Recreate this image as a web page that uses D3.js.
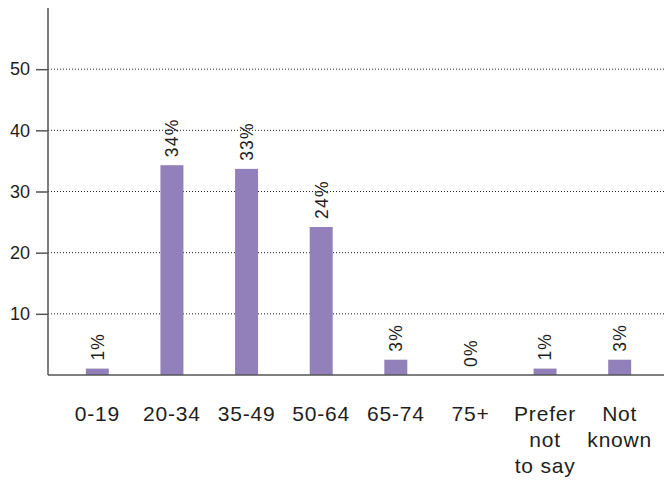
<!DOCTYPE html>
<html><head><meta charset="utf-8">
<script src="https://cdn.jsdelivr.net/npm/d3@7"></script>
<style>
body{margin:0;background:#fff;}
text{font-family:"Liberation Sans",Arial,sans-serif;fill:#1e1e1e;}
</style></head>
<body><svg id="c" width="664" height="483"></svg>
<script>
const categories = [["0-19"],["20-34"],["35-49"],["50-64"],["65-74"],["75+"],["Prefer","not","to say"],["Not","known"]];
const values = [1.05, 34.3, 33.7, 24.2, 2.5, 0, 1.05, 2.5];
const valueLabels = ["1%","34%","33%","24%","3%","0%","1%","3%"];
const yTicks = [10,20,30,40,50];

const svg = d3.select("#c");
const x = d3.scaleBand().domain(d3.range(categories.length)).range([60,657]).paddingInner(0.692).paddingOuter(0.346);
const y = d3.scaleLinear().domain([0,60]).range([375,8]);
const x0 = 48;

// gridlines
svg.append("g").selectAll("line").data(yTicks).join("line")
  .attr("x1",x0).attr("x2",664).attr("y1",d=>y(d)).attr("y2",d=>y(d))
  .attr("stroke","#222").attr("stroke-width",1).attr("stroke-dasharray","1,2");

// bars
svg.append("g").selectAll("rect").data(values).join("rect")
  .attr("x",(d,i)=>x(i)).attr("width",x.bandwidth())
  .attr("y",d=>y(d)).attr("height",d=>y(0)-y(d))
  .attr("fill","#9180ba");

// value labels
svg.append("g").selectAll("text").data(values).join("text")
  .attr("transform",(d,i)=>`translate(${x(i)+x.bandwidth()/2},${y(d)-8}) rotate(-90)`)
  .attr("dy","0.36em").attr("text-anchor","start")
  .attr("font-size",17.5).attr("letter-spacing",1.2).text((d,i)=>valueLabels[i]);

// y axis
const yAxis = d3.axisLeft(y).tickValues(yTicks).tickSize(12).tickPadding(6);
const ga = svg.append("g").attr("transform",`translate(${x0},0)`).call(yAxis);
ga.select(".domain").remove();
ga.selectAll(".tick line").attr("stroke","#555").attr("stroke-width",1.5);
ga.selectAll(".tick text").attr("font-size",18).attr("fill","#1e1e1e").attr("font-family",'"Liberation Sans",Arial,sans-serif');

svg.append("line").attr("x1",x0).attr("x2",x0).attr("y1",8).attr("y2",y(0))
  .attr("stroke","#555").attr("stroke-width",1.5);
svg.append("line").attr("x1",x0).attr("x2",664).attr("y1",y(0)).attr("y2",y(0))
  .attr("stroke","#555").attr("stroke-width",1.5);

// x labels
const xl = svg.append("g").selectAll("text").data(categories).join("text")
  .attr("x",(d,i)=>x(i)+x.bandwidth()/2).attr("y",421)
  .attr("text-anchor","middle").attr("font-size",21).attr("letter-spacing",0.8);
xl.selectAll("tspan").data(d=>d).join("tspan")
  .attr("x",function(){return this.parentNode.getAttribute("x");})
  .attr("dy",(d,i)=>i===0?0:26).text(d=>d);
</script></body></html>
